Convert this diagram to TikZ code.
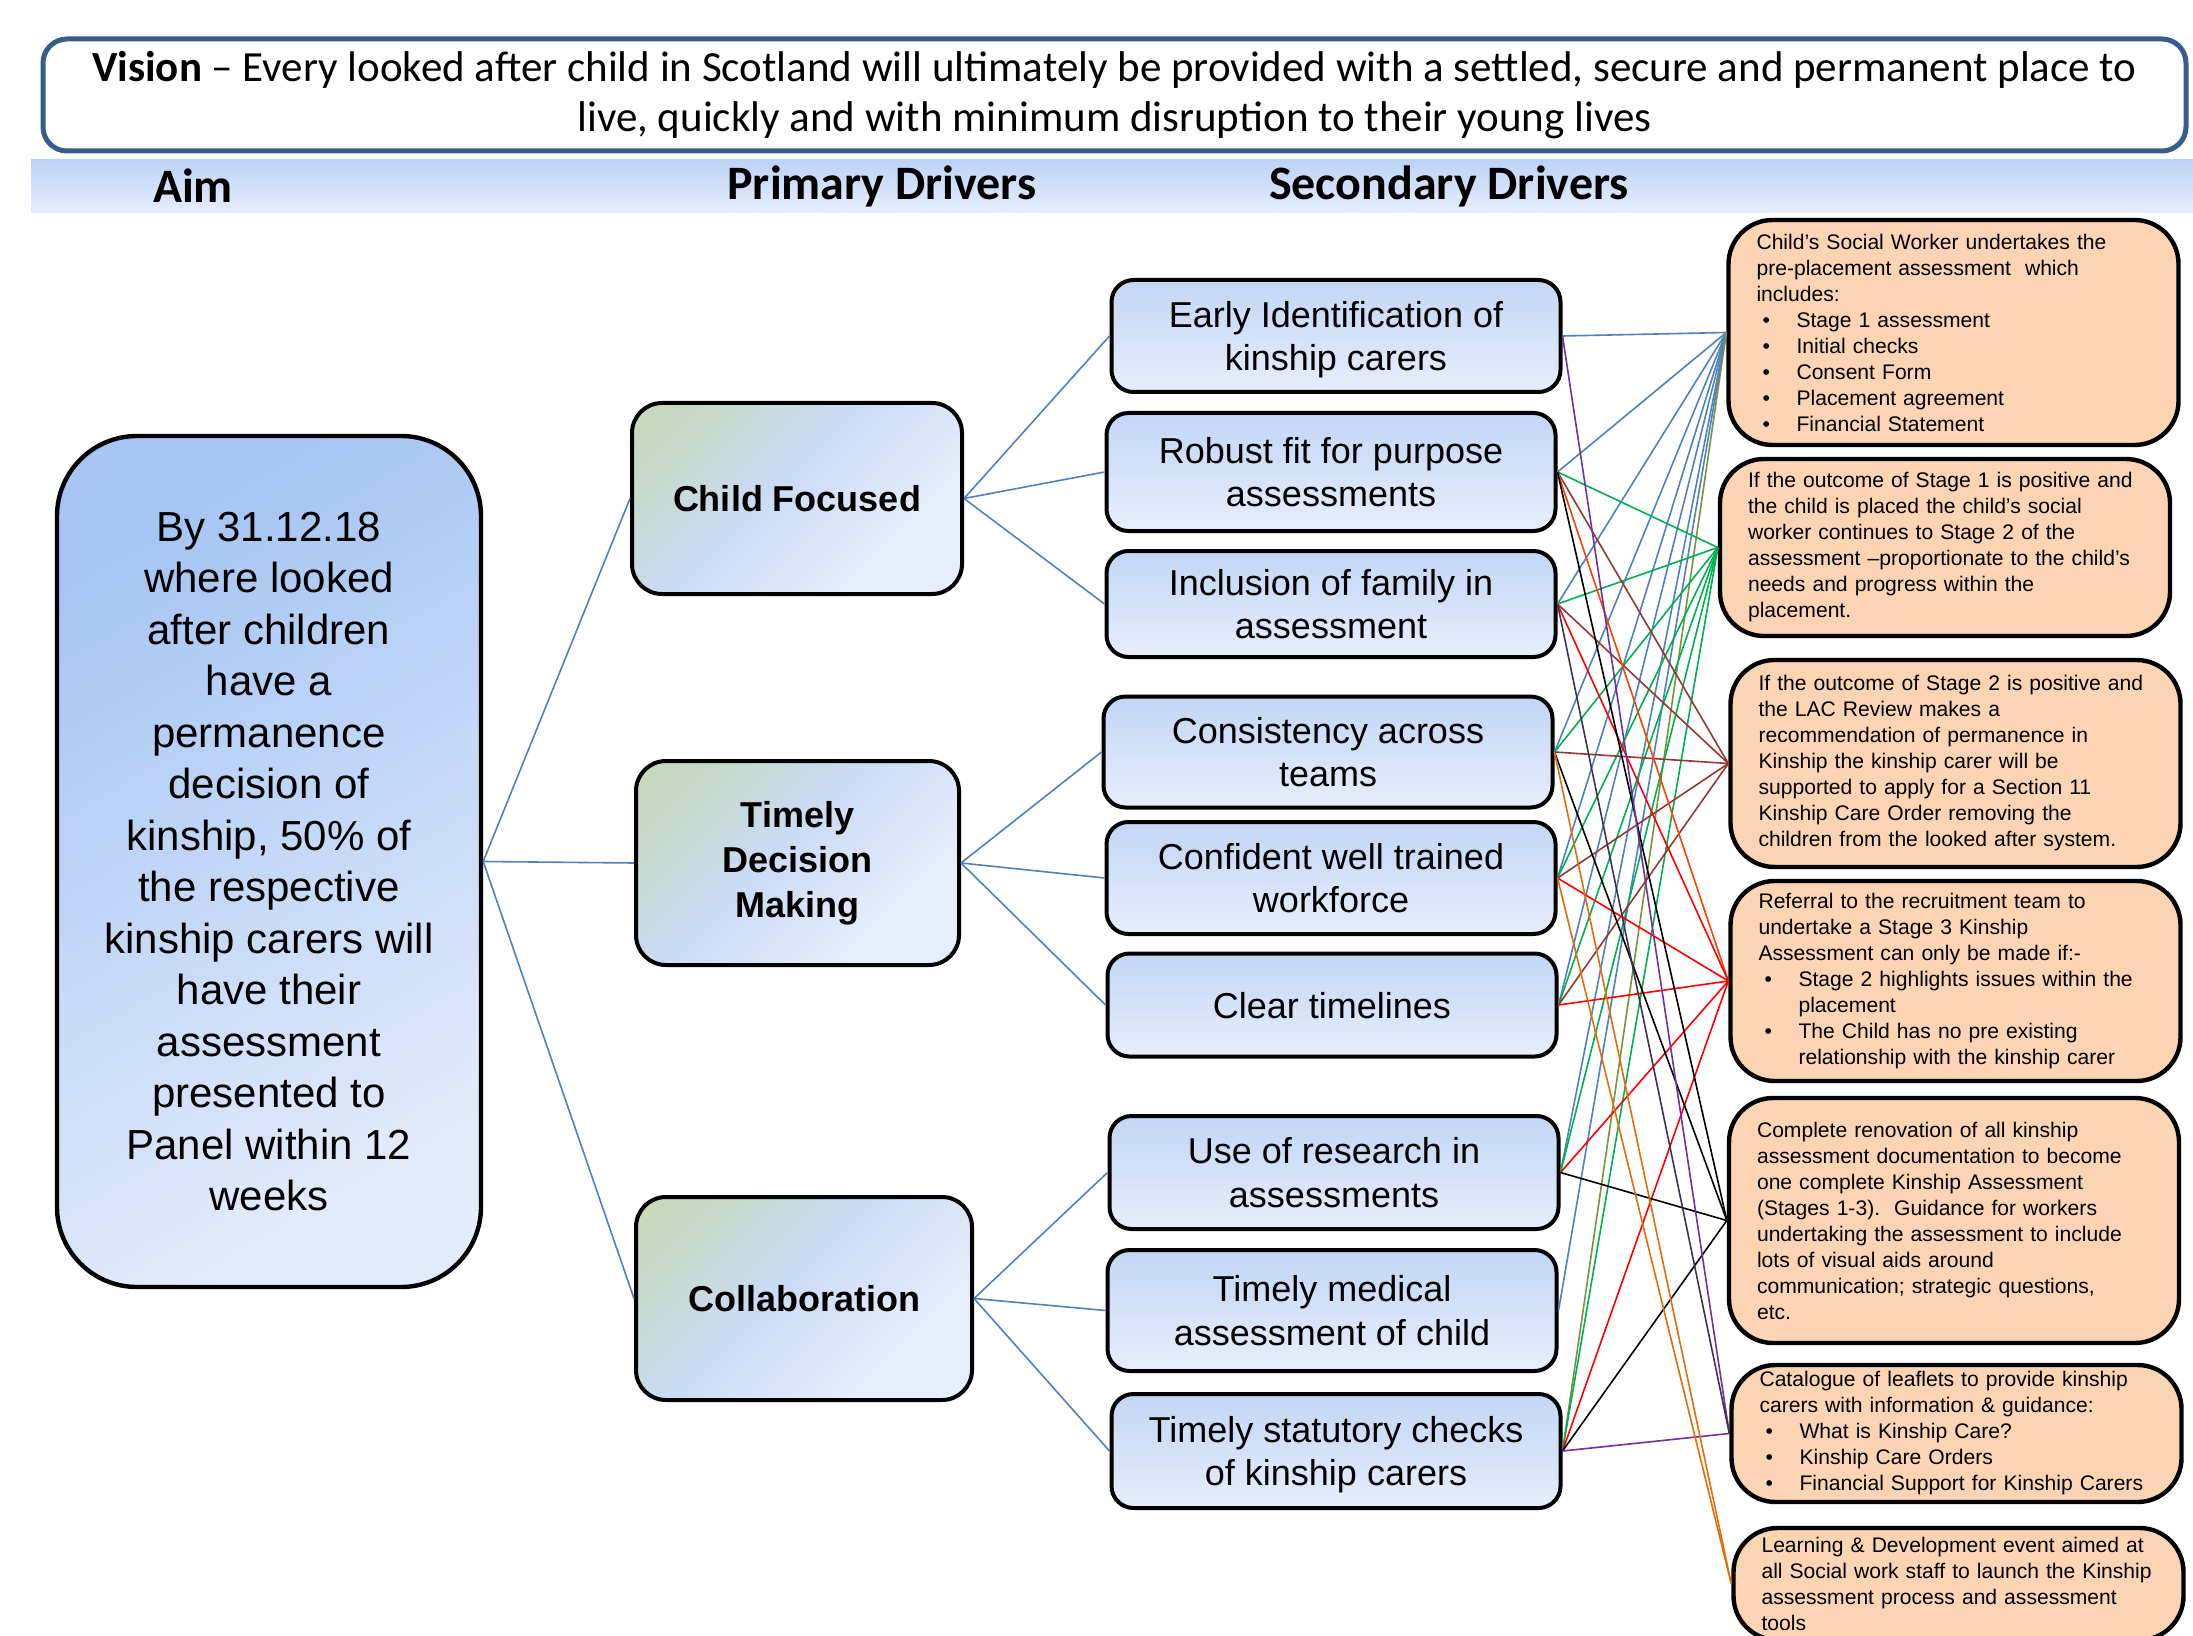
\documentclass[tikz,border=0pt]{standalone}
\usepackage{fontspec}
\setmainfont{Liberation Sans}
\newfontfamily\calibrifont{Carlito}
\definecolor{visionBorder}{HTML}{385D8A}
\definecolor{bandTop}{HTML}{BCD3F6}
\definecolor{bandBot}{HTML}{E6EEFC}
\definecolor{aimTop}{HTML}{A6C5F3}
\definecolor{aimBot}{HTML}{E3ECFB}
\definecolor{priTop}{HTML}{C3D89C}
\definecolor{priMid}{HTML}{CADBF5}
\definecolor{priBot}{HTML}{E6EEFC}
\definecolor{secTop}{HTML}{C2D6F5}
\definecolor{secBot}{HTML}{E6EEFC}
\definecolor{changeFill}{HTML}{FBD4B4}
\definecolor{lkBlue}{HTML}{4F81BD}
\definecolor{lkGreen}{HTML}{00B050}
\definecolor{lkBrown}{HTML}{953735}
\definecolor{lkRed}{HTML}{FF0000}
\definecolor{lkRedOrange}{HTML}{FF4000}
\definecolor{lkPurple}{HTML}{7030A0}
\definecolor{lkDarkPurple}{HTML}{403152}
\definecolor{lkOrange}{HTML}{E46C0A}
\definecolor{lkOlive}{HTML}{77933C}
\pgfdeclareverticalshading{priShade}{100bp}{color(0bp)=(priBot); color(30bp)=(priBot); color(55bp)=(priMid); color(70bp)=(priMid!60!priTop); color(100bp)=(priTop)}
\newcommand{\ddBullet}[1]{\hspace*{3pt}\makebox[17pt][l]{\textbullet}#1}
\newcommand{\ddIndent}{\hspace*{20pt}}
\begin{document}
\begin{tikzpicture}[x=0.5pt,y=-0.5pt]
\tikzset{
    ddVision/.style={rectangle,rounded corners=12pt,draw=visionBorder,line width=2.5pt,fill=white,minimum width=1071.5pt,minimum height=56pt,align=center,font=\calibrifont\fontsize{21.5}{25}\selectfont},
    ddHead/.style={font=\calibrifont\bfseries\fontsize{24}{28}\selectfont},
    ddAim/.style={rectangle,rounded corners=40pt,draw=black,line width=2.2pt,top color=aimTop,bottom color=aimBot,shading angle=30,minimum width=212pt,minimum height=425.5pt,align=center,font=\fontsize{21}{25.75}\selectfont},
    ddPrimary/.style={rectangle,rounded corners=15pt,draw=black,line width=2pt,shading=priShade,shading angle=45,align=center,font=\bfseries\fontsize{18}{22.4}\selectfont},
    ddSecondary/.style={rectangle,rounded corners=11pt,draw=black,line width=2pt,top color=secTop,bottom color=secBot,minimum width=224.5pt,text depth=-2pt,align=center,font=\fontsize{18}{21.7}\selectfont},
    ddChange/.style={rectangle,rounded corners=22pt,draw=black,line width=2.2pt,fill=changeFill,inner xsep=14pt,text width=197pt,align=left,font=\fontsize{10.55}{13}\selectfont},
    ddLink/.style={line width=0.8pt},
}
\fill[white] (0,0) rectangle (2193,1636);
\useasboundingbox (0,0) rectangle (2193,1636);

% vision and column headings
\shade[top color=bandTop,bottom color=bandBot] (31,160) rectangle (2193,213);
\node[ddVision] (vision) at (1114.5,95) {\textbf{Vision} – Every looked after child in Scotland will ultimately be provided with a settled, secure and permanent place to\\live, quickly and with minimum disruption to their young lives};
\node[ddHead] (hAim) at (193,186) {Aim};
\node[ddHead] (hPrimary) at (882,186) {Primary Drivers};
\node[ddHead] (hSecondary) at (1449,186) {Secondary Drivers};

% aim
\node[ddAim] (aim) at (269,861.5) {By 31.12.18\\where looked\\after children\\have a\\permanence\\decision of\\kinship, 50\% of\\the respective\\kinship carers will\\have their\\assessment\\presented to\\Panel within 12\\weeks};

% primary drivers
\node[ddPrimary,minimum width=165pt,minimum height=95.5pt] (p1) at (797,498.5) {Child Focused};
\node[ddPrimary,minimum width=161.5pt,minimum height=102pt] (p2) at (797.5,863) {Timely\\Decision\\Making};
\node[ddPrimary,minimum width=168pt,minimum height=101.5pt] (p3) at (804,1298.5) {Collaboration};

% secondary drivers
\node[ddSecondary,minimum height=56pt] (s1) at (1336,336) {Early Identification of\\kinship carers};
\node[ddSecondary,minimum height=59pt] (s2) at (1331,472) {Robust fit for purpose\\assessments};
\node[ddSecondary,minimum height=53pt] (s3) at (1331,604) {Inclusion of family in\\assessment};
\node[ddSecondary,minimum height=55.5pt] (s4) at (1328,752) {Consistency across\\teams};
\node[ddSecondary,minimum height=56pt] (s5) at (1331,878) {Confident well trained\\workforce};
\node[ddSecondary,minimum height=51.5pt] (s6) at (1332,1005) {Clear timelines};
\node[ddSecondary,minimum height=56.5pt] (s7) at (1334,1172.5) {Use of research in\\assessments};
\node[ddSecondary,minimum height=60.5pt] (s8) at (1332,1310.5) {Timely medical\\assessment of child};
\node[ddSecondary,minimum height=57pt] (s9) at (1336,1451) {Timely statutory checks\\of kinship carers};

% change ideas
\node[ddChange,minimum height=112.5pt] (c1) at (1953.5,332.5) {Child’s Social Worker undertakes the\\pre-placement assessment\ \ which\\includes:\\\ddBullet{Stage 1 assessment}\\\ddBullet{Initial checks}\\\ddBullet{Consent Form}\\\ddBullet{Placement agreement}\\\ddBullet{Financial Statement}};
\node[ddChange,minimum height=88.5pt] (c2) at (1945,547.5) {If the outcome of Stage 1 is positive and\\the child is placed the child’s social\\worker continues to Stage 2 of the\\assessment –proportionate to the child’s\\needs and progress within the\\placement.};
\node[ddChange,minimum height=103.5pt] (c3) at (1955.5,763.5) {If the outcome of Stage 2 is positive and\\the LAC Review makes a\\recommendation of permanence in\\Kinship the kinship carer will be\\supported to apply for a Section 11\\Kinship Care Order removing the\\children from the looked after system.};
\node[ddChange,minimum height=100pt] (c4) at (1955.5,981) {Referral to the recruitment team to\\undertake a Stage 3 Kinship\\Assessment can only be made if:-\\\ddBullet{Stage 2 highlights issues within the}\\\ddIndent placement\\\ddBullet{The Child has no pre existing}\\\ddIndent relationship with the kinship carer};
\node[ddChange,minimum height=122.5pt] (c5) at (1954,1220.5) {Complete renovation of all kinship\\assessment documentation to become\\one complete Kinship Assessment\\(Stages 1-3).\ \ Guidance for workers\\undertaking the assessment to include\\lots of visual aids around\\communication; strategic questions,\\etc.};
\node[ddChange,minimum height=67.5pt] (c6) at (1956.5,1433.5) {Catalogue of leaflets to provide kinship\\carers with information \& guidance:\\\ddBullet{What is Kinship Care?}\\\ddBullet{Kinship Care Orders}\\\ddBullet{Financial Support for Kinship Carers}};
\node[ddChange,minimum height=56pt] (c7) at (1958.5,1584) {Learning \& Development event aimed at\\all Social work staff to launch the Kinship\\assessment process and assessment\\tools};

% aim to primary, primary to secondary
\foreach \p in {p1,p2,p3} \draw[ddLink,lkBlue] (aim.east) -- (\p.west);
\foreach \s in {s1,s2,s3} \draw[ddLink,lkBlue] (p1.east) -- (\s.west);
\foreach \s in {s4,s5,s6} \draw[ddLink,lkBlue] (p2.east) -- (\s.west);
\foreach \s in {s7,s8,s9} \draw[ddLink,lkBlue] (p3.east) -- (\s.west);

% secondary to change ideas
\foreach \s in {s1,s2,s3,s4,s5,s6,s7,s8} \draw[ddLink,lkBlue] (\s.east) -- (c1.west);
\draw[ddLink,lkOlive] (s9.east) -- (c1.west);
\foreach \s in {s2,s3,s4,s5,s6,s7,s9} \draw[ddLink,lkGreen] (\s.east) -- (c2.west);
\foreach \s in {s2,s3,s4,s5,s6} \draw[ddLink,lkBrown] (\s.east) -- (c3.west);
\draw[ddLink,lkRedOrange] (s2.east) -- (c4.west);
\foreach \s in {s3,s5,s6,s7,s9} \draw[ddLink,lkRed] (\s.east) -- (c4.west);
\foreach \s in {s2,s4,s7,s9} \draw[ddLink,black] (\s.east) -- (c5.west);
\foreach \s in {s1,s9} \draw[ddLink,lkPurple] (\s.east) -- (c6.west);
\draw[ddLink,lkDarkPurple] (s3.east) -- (c6.west);
\foreach \s in {s4,s5} \draw[ddLink,lkOrange] (\s.east) -- (c7.west);
\end{tikzpicture}
\end{document}
